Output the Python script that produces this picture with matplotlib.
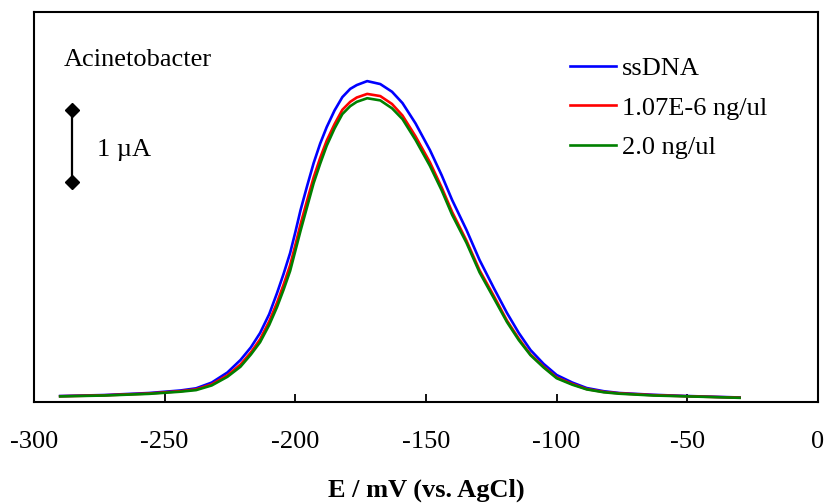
import matplotlib
matplotlib.use("Agg")
import matplotlib.pyplot as plt

plt.rcParams['font.family'] = ['Liberation Serif', 'DejaVu Serif']
plt.rcParams['axes.unicode_minus'] = False

# potential (mV vs. AgCl)
potential = [-290, -273, -256, -244, -238, -232, -226, -221, -217, -213.5, -210, -207,
             -204.5, -202, -200, -198, -195.5, -193, -190.5, -188, -185, -182, -179,
             -176.5, -172.5, -167.5, -163, -159, -154, -148.5, -144, -140, -134.5,
             -129.5, -124, -119, -114.5, -110, -105, -100, -94, -88.5, -82, -76,
             -63, -50, -30]

# current (uA)
ssdna = [0.083, 0.097, 0.125, 0.160, 0.19, 0.270, 0.41, 0.583, 0.76, 0.958, 1.22, 1.514,
         1.78, 2.069, 2.36, 2.667, 3.00, 3.319, 3.59, 3.819, 4.05, 4.236, 4.35,
         4.403, 4.458, 4.417, 4.31, 4.153, 3.87, 3.500, 3.15, 2.806, 2.39,
         1.972, 1.58, 1.236, 0.96, 0.722, 0.53, 0.375, 0.27, 0.194, 0.15, 0.125,
         0.10, 0.083, 0.063]
low_conc = [0.080, 0.093, 0.118, 0.150, 0.175, 0.245, 0.37, 0.52, 0.69, 0.87, 1.12, 1.38,
            1.63, 1.90, 2.18, 2.47, 2.80, 3.12, 3.39, 3.63, 3.86, 4.06, 4.17,
            4.23, 4.28, 4.25, 4.14, 3.98, 3.69, 3.33, 2.98, 2.64, 2.24,
            1.83, 1.47, 1.13, 0.88, 0.66, 0.49, 0.34, 0.25, 0.18, 0.14, 0.12,
            0.095, 0.08, 0.06]
high_conc = [0.078, 0.090, 0.113, 0.143, 0.165, 0.230, 0.35, 0.49, 0.66, 0.83, 1.07, 1.32,
             1.56, 1.82, 2.10, 2.38, 2.71, 3.04, 3.31, 3.56, 3.80, 4.00, 4.11,
             4.17, 4.22, 4.19, 4.08, 3.93, 3.64, 3.28, 2.94, 2.60, 2.21,
             1.80, 1.44, 1.11, 0.86, 0.65, 0.48, 0.33, 0.24, 0.175, 0.135, 0.115,
             0.09, 0.078, 0.058]

labels = ["ssDNA", "1.07E-6 ng/ul", "2.0 ng/ul"]
colors = ["#0000ff", "#ff0000", "#008000"]

fig = plt.figure(figsize=(8.3, 5.03), dpi=100)
ax = fig.add_axes([0.041, 0.2008, 0.9445, 0.7752])

for ys, lab, col in zip([ssdna, low_conc, high_conc], labels, colors):
    ax.plot(potential, ys, color=col, lw=1.9, label=lab)

ax.set_xlim(-300, 0)
ax.set_ylim(0, 5.417)
ax.set_xticks(range(-300, 1, 50))
ax.set_yticks([])
ax.tick_params(axis='x', direction='in', length=6, width=1.3, labelsize=19, pad=21)
for s in ax.spines.values():
    s.set_linewidth(1.5)

ax.set_xlabel("E / mV (vs. AgCl)", fontsize=19, fontweight='bold', labelpad=18)

# scale bar 1 uA
ax.plot([-285.5, -285.5], [3.056, 4.056], color='black', lw=1.6,
        marker='D', markersize=7)
ax.text(-276, 3.50, "1 \u00b5A", fontsize=19, va='center', ha='left')
ax.text(-288.5, 4.75, "Acinetobacter", fontsize=19, va='center', ha='left')

ax.legend(loc='upper left', bbox_to_anchor=(0.653, 0.946), frameon=False,
          fontsize=19, handlelength=1.75, handletextpad=0.23, labelspacing=0.6,
          borderpad=0.4)

fig.savefig("out.png", dpi=100)
